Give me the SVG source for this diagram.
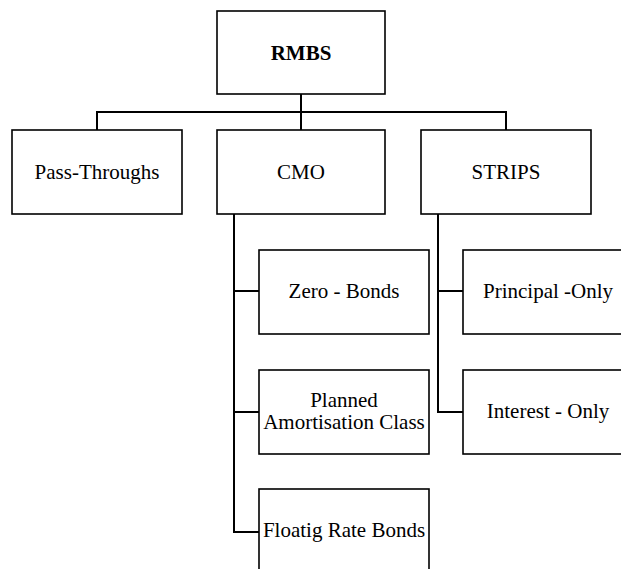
<svg xmlns="http://www.w3.org/2000/svg" width="621" height="569" viewBox="0 0 621 569">
<style>
.box{fill:#fff;stroke:#000;stroke-width:1.6}
.lbl{font-family:"Liberation Serif","Times New Roman",serif;font-size:21px;fill:#000;text-anchor:middle}
.b{font-weight:bold}
.con{fill:none;stroke:#000;stroke-width:2;stroke-linejoin:miter;stroke-linecap:square}
</style>
<rect width="621" height="569" fill="#fff"/>
<g id="connectors">
<path class="con" d="M301,94 V131"/>
<path class="con" d="M97,130 V112 H506 V130"/>
<path class="con" d="M234,214 V532 H259 M234,291 H259 M234,412 H259"/>
<path class="con" d="M438,214 V412 H463 M438,291 H463"/>
</g>
<g id="rmbs"><rect class="box" x="217" y="11" width="168" height="83"/><text class="lbl b" x="301" y="59.5">RMBS</text></g>
<g id="pass"><rect class="box" x="12" y="130" width="170" height="84"/><text class="lbl" x="97" y="179">Pass-Throughs</text></g>
<g id="cmo"><rect class="box" x="217" y="130" width="168" height="84"/><text class="lbl" x="301" y="179">CMO</text></g>
<g id="strips"><rect class="box" x="421" y="130" width="170" height="84"/><text class="lbl" x="506" y="179">STRIPS</text></g>
<g id="zero"><rect class="box" x="259" y="250" width="170" height="84"/><text class="lbl" x="344" y="298">Zero - Bonds</text></g>
<g id="pac"><rect class="box" x="259" y="370" width="170" height="84"/><text class="lbl" x="344" y="407">Planned</text><text class="lbl" x="344" y="429">Amortisation Class</text></g>
<g id="floating"><rect class="box" x="259" y="489" width="170" height="84"/><text class="lbl" x="344" y="537">Floatig Rate Bonds</text></g>
<g id="po"><rect class="box" x="463" y="250" width="170" height="84"/><text class="lbl" x="548" y="298">Principal -Only</text></g>
<g id="io"><rect class="box" x="463" y="370" width="170" height="84"/><text class="lbl" x="548" y="418">Interest - Only</text></g>
</svg>
